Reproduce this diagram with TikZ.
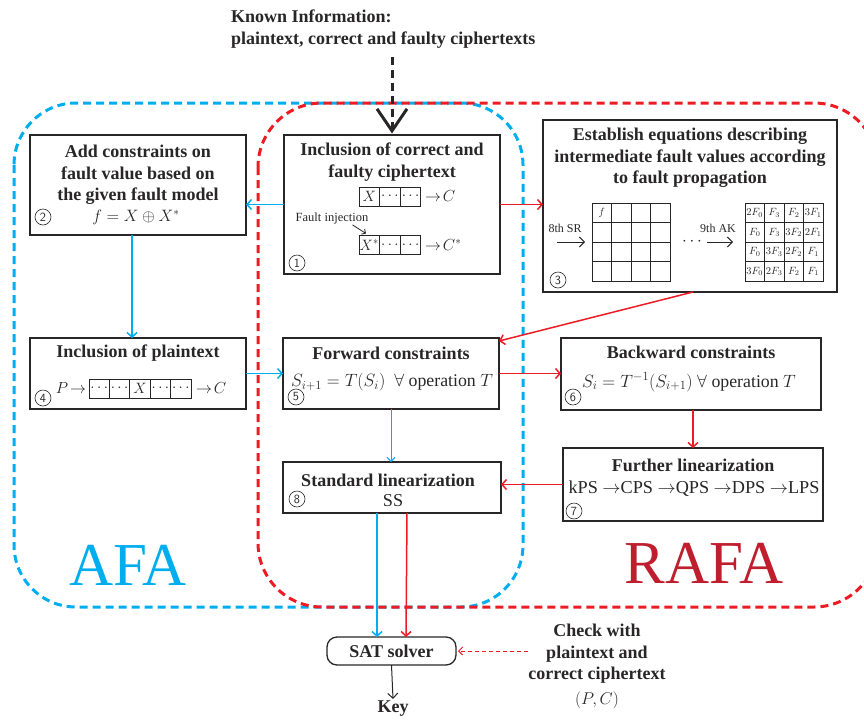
\RequirePackage{fix-cm}
\documentclass[tikz,border=0pt]{standalone}
\usepackage{fontspec}
\setmainfont{Liberation Serif}
\usetikzlibrary{arrows.meta,calc}
\definecolor{afablue}{RGB}{0,174,239}
\definecolor{rafared}{RGB}{237,28,36}
\definecolor{rafatext}{RGB}{190,30,45}
\definecolor{boxgray}{RGB}{40,38,38}
\tikzset{
  box/.style={draw=boxgray, line width=1.3pt, inner sep=0pt, outer sep=0pt},
  ttl/.style={font=\fontsize{18}{21.5}\selectfont\bfseries, align=center, text=boxgray, inner sep=0pt},
  frm/.style={font=\fontsize{16}{18}\selectfont, inner sep=0pt, text=boxgray},
  num/.style={draw=boxgray, circle, line width=0.6pt, minimum size=16pt, inner sep=0pt, font=\fontsize{12.5}{12.5}\selectfont\sffamily, text=boxgray},
  cell/.style={draw=boxgray, line width=1pt, minimum width=20.6pt, minimum height=19pt, inner sep=0pt, outer sep=0pt, font=\fontsize{15}{15}\selectfont, text=boxgray},
  gcell/.style={draw=boxgray, line width=1pt, minimum width=19.5pt, minimum height=19.5pt, inner sep=0pt, outer sep=0pt, font=\fontsize{10.5}{10.5}\selectfont, text=boxgray},
  small/.style={font=\fontsize{12.5}{13}\selectfont, inner sep=0pt, text=boxgray},
  barrow/.style={afablue, line width=1.5pt, -{Straight Barb[length=4.5pt,width=10pt]}},
  rarrow/.style={rafared, line width=1.5pt, -{Straight Barb[length=4.5pt,width=10pt]}},
  karrow/.style={boxgray, line width=1pt, -{Straight Barb[length=5pt,width=10pt]}},
  bluedash/.style={afablue, line width=3pt, dash pattern=on 8pt off 5pt},
  reddash/.style={rafared, line width=3pt, dash pattern=on 8pt off 5pt},
}
\begin{document}
\begin{tikzpicture}[x=1pt,y=-1pt]
\useasboundingbox (0,0) rectangle (864,720);
\clip (0,0) rectangle (864,720);

% regions
\draw[bluedash, rounded corners=62pt] (14,103) rectangle (523,607);
\draw[reddash, rounded corners=64pt] (258,103) rectangle (878,607);
\node[font=\fontsize{61}{61}\selectfont, text=afablue, inner sep=0pt] (afa) at (128,565) {AFA};
\node[font=\fontsize{61}{61}\selectfont, text=rafatext, inner sep=0pt] (rafa) at (704,563) {RAFA};

% known information
\node[ttl, align=left, anchor=north west, font=\fontsize{18}{22}\selectfont\bfseries] (known) at (231,10) {Known Information:\\plaintext, correct and faulty ciphertexts};
\coordinate (kstart) at (392,57);

% box 1
\node[box, minimum width=216pt, minimum height=139pt] (b1) at (392,204.5) {};
\node[ttl] (t1) at (392,162) {Inclusion of correct and\\faulty ciphertext};
\node[cell, anchor=west] (r1a) at (359,196.5) {$X$};
\node[cell, anchor=west] (r1b) at (r1a.east) {$\cdots$};
\node[cell, anchor=west] (r1c) at (r1b.east) {$\cdots$};
\node[frm, anchor=west] (r1d) at (425,196.5) {$\rightarrow\! C$};
\node[small] (fault) at (332,218) {Fault injection};
\node[cell, anchor=west] (r2a) at (359,245) {$X^{*}$};
\node[cell, anchor=west] (r2b) at (r2a.east) {$\cdots$};
\node[cell, anchor=west] (r2c) at (r2b.east) {$\cdots$};
\node[frm, anchor=west] (r2d) at (425,245) {$\rightarrow\! C^{*}$};
\draw[boxgray, line width=0.8pt, -{Straight Barb[length=3pt,width=6pt]}] ([xshift=-16pt,yshift=-1pt]fault.south east) -- ([shift={(7pt,2pt)}]r2a.north west);
\node[num] (n1) at (297,263) {1};

% box 2
\node[box, minimum width=216pt, minimum height=100pt] (b2) at (138,185) {};
\node[ttl] (t2) at (138,175) {Add constraints on\\fault value based on\\the given fault model};
\node[frm, font=\fontsize{16.5}{18}\selectfont] (f2) at (136,217) {$f = X \oplus X^{*}$};
\node[num] (n2) at (43,217) {2};

% box 3
\node[box, minimum width=294pt, minimum height=172pt] (b3) at (690,206) {};
\node[ttl] (t3) at (690,158) {Establish equations describing\\intermediate fault values according\\to fault propagation};
\foreach \i in {0,...,3}{
  \foreach \j in {0,...,3}{
    \node[gcell] (g\i\j) at (601.75+19.5*\j, 212.75+19.5*\i) {};
  }
}
\node[gcell, draw=none] (gf) at (g00) {$f$};
\foreach \r [count=\i from 0] in {{2F_0,F_3,F_2,3F_1},{F_0,F_3,3F_2,2F_1},{F_0,3F_3,2F_2,F_1},{3F_0,2F_3,F_2,F_1}}{
  \foreach \e [count=\j from 0] in \r {
    \node[gcell] (h\i\j) at (754.75+19.5*\j, 212.75+19.5*\i) {$\e$};
  }
}
\node[small, font=\fontsize{12}{12}\selectfont] (sr) at (565,228) {8th SR};
\coordinate (srstart) at (557,242);
\draw[karrow] (srstart) -- ([xshift=-7pt]g10.south west);
\node[frm, font=\fontsize{17}{17}\selectfont] (dots) at (692,242) {$\cdots$};
\node[small, font=\fontsize{12}{12}\selectfont] (ak) at (718,228) {9th AK};
\coordinate (akstart) at (707,242);
\draw[karrow] (akstart) -- ([xshift=-12pt]h10.south west);
\node[num] (n3) at (558,280) {3};

% box 4
\node[box, minimum width=216pt, minimum height=71pt] (b4) at (138,373.5) {};
\node[ttl] (t4) at (138,353) {Inclusion of plaintext};
\node[frm] (p4) at (71,388) {$P\!\rightarrow$};
\node[cell, anchor=west, minimum width=20.4pt] (q1) at (89,388.5) {$\cdots$};
\node[cell, anchor=west, minimum width=20.4pt] (q2) at (q1.east) {$\cdots$};
\node[cell, anchor=west, minimum width=20.4pt] (q3) at (q2.east) {$X$};
\node[cell, anchor=west, minimum width=20.4pt] (q4) at (q3.east) {$\cdots$};
\node[cell, anchor=west, minimum width=20.4pt] (q5) at (q4.east) {$\cdots$};
\node[frm, anchor=west] (c4) at (196,388) {$\rightarrow\! C$};
\node[num] (n4) at (43,398) {4};

% box 5
\node[box, minimum width=216pt, minimum height=71pt] (b5) at (391,373.5) {};
\node[ttl] (t5) at (391,353) {Forward constraints};
\node[frm, font=\fontsize{17.8}{18}\selectfont] (f5) at (392,382) {$S_{i+1} = T(S_i)\ \ \forall\ \mathrm{operation}\ T$};
\node[num] (n5) at (296,397) {5};

% box 6
\node[box, minimum width=260pt, minimum height=72pt] (b6) at (691,374) {};
\node[ttl] (t6) at (691,352) {Backward constraints};
\node[frm, font=\fontsize{17.8}{18}\selectfont] (f6) at (689,382) {$S_i = T^{-1}(S_{i+1})\ \forall\ \mathrm{operation}\ T$};
\node[num] (n6) at (573,397) {6};

% box 7
\node[box, minimum width=260pt, minimum height=73pt] (b7) at (693,484.5) {};
\node[ttl] (t7) at (693,465.5) {Further linearization};
\node[frm, font=\fontsize{18.2}{19}\selectfont] (f7) at (694,489) {kPS $\rightarrow$CPS $\rightarrow$QPS $\rightarrow$DPS $\rightarrow$LPS};
\node[num] (n7) at (574,511) {7};

% box 8
\node[box, minimum width=218pt, minimum height=51pt] (b8) at (392,487.5) {};
\node[ttl] (t8) at (388,480) {Standard linearization};
\node[frm, font=\fontsize{18.2}{19}\selectfont] (f8) at (393,500.5) {SS};
\node[num] (n8) at (297,499) {8};

% SAT solver, key, check
\node[box, rounded corners=10pt, minimum width=129pt, minimum height=28pt, font=\fontsize{18}{18}\selectfont\bfseries, text=boxgray] (sat) at (391.5,651) {SAT solver};
\node[ttl] (key) at (393,709) {Key};
\node[ttl, anchor=north] (check) at (597,624) {Check with\\plaintext and\\correct ciphertext\\[3pt]{\mdseries\fontsize{17}{17}\selectfont$(P,C)$}};

% connectors
\draw[boxgray, line width=3pt, dash pattern=on 8pt off 5pt, -{Straight Barb[length=22pt,width=30pt,line width=3pt]}] (kstart) -- ([yshift=1.5pt]b1.north);
\draw[barrow] (b1.west) -- (b2.east |- b1.west);
\draw[rarrow] (b1.east) -- (b3.west |- b1.east);
\draw[barrow] ([xshift=-6pt]b2.south) -- ([xshift=-6pt]b4.north);
\draw[rarrow] ([xshift=3pt]b3.south) -- ([yshift=-3pt]b5.north east);
\draw[barrow] (b4.east) -- (b5.west);
\draw[rarrow] (b5.east) -- (b5.east -| b6.west);
\draw[afablue, line width=1pt, -{Straight Barb[length=4pt,width=8pt]}] (b5.south) -- (b5.south |- b8.north);
\draw[rarrow] ([xshift=2pt]b6.south) -- ([xshift=2pt]b6.south |- b7.north);
\draw[rarrow] (b7.west) -- (b7.west -| b8.east);
\draw[barrow] ([xshift=-15pt]b8.south) -- ([xshift=-14.5pt]sat.north);
\draw[rarrow] ([xshift=15pt]b8.south) -- ([xshift=14.5pt]sat.north);
\draw[karrow] (sat.south) -- ([yshift=2pt]key.north);
\draw[rafared, line width=1pt, dash pattern=on 4pt off 3pt, -{Straight Barb[length=4pt,width=8pt]}] (check.west |- sat.east) -- ([xshift=2pt]sat.east);
\end{tikzpicture}
\end{document}
